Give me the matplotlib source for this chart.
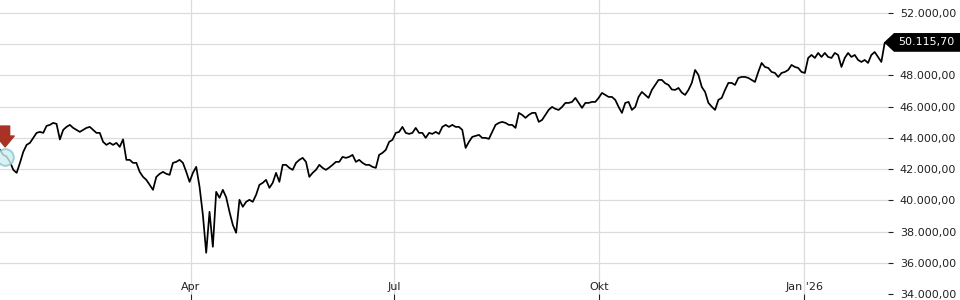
import numpy as np
import pandas as pd
import matplotlib
matplotlib.use("Agg")
import matplotlib.pyplot as plt
from matplotlib.ticker import FuncFormatter
from matplotlib.patches import Polygon
from matplotlib.transforms import blended_transform_factory

# kurs (mniej wiecej co 1.5 dnia)
kurs = [43232, 42912, 42800, 42464, 41952, 41760, 42400, 43104, 43552, 43680,
        44000, 44320, 44384, 44320, 44768, 44832, 44960, 44896, 43900, 44512,
        44704, 44832, 44640, 44512, 44384, 44512, 44640, 44704, 44512, 44320,
        44320, 43744, 43552, 43680, 43552, 43680, 43424, 43904, 42592, 42592,
        42400, 42400, 41824, 41504, 41312, 40992, 40672, 41500, 41696, 41824,
        41700, 41632, 42400, 42464, 42592, 42400, 41824, 41184, 41760, 42144,
        40864, 39072, 36640, 39264, 37024, 40544, 40160, 40672, 40200, 39264,
        38432, 37920, 40032, 39584, 39904, 40032, 39904, 40352, 40992, 41120,
        41312, 40800, 41120, 41760, 41184, 42272, 42272, 42080, 41952, 42400,
        42592, 42720, 42464, 41504, 41760, 41952, 42272, 42080, 41952, 42100,
        42272, 42464, 42464, 42784, 42720, 42784, 42912, 42464, 42592, 42400,
        42272, 42272, 42144, 42080, 42912, 43040, 43232, 43744, 43872, 44320,
        44384, 44704, 44320, 44256, 44320, 44640, 44320, 44320, 44000, 44320,
        44256, 44384, 44256, 44704, 44832, 44704, 44832, 44704, 44704, 44512,
        43360, 43744, 44064, 44128, 44192, 44000, 44000, 43936, 44384, 44832,
        44960, 45024, 44960, 44832, 44832, 44640, 45600, 45472, 45280, 45472,
        45600, 45600, 45024, 45152, 45472, 45800, 45984, 45856, 45792, 45984,
        46240, 46240, 46304, 46560, 46240, 45920, 46240, 46240, 46304, 46304,
        46560, 46880, 46752, 46624, 46624, 46432, 45984, 45600, 46240, 46304,
        45792, 45984, 46624, 46944, 46752, 46560, 47072, 47392, 47712, 47712,
        47500, 47392, 47100, 47072, 47200, 46900, 46752, 47072, 47520, 48350,
        48032, 47264, 46944, 46240, 46000, 45792, 46432, 46560, 47072, 47520,
        47520, 47392, 47840, 47904, 47904, 47840, 47712, 47584, 48224, 48800,
        48544, 48480, 48224, 48160, 47904, 48160, 48224, 48352, 48672, 48544,
        48480, 48224, 48160, 49120, 49312, 49120, 49440, 49184, 49440, 49184,
        49120, 49440, 49312, 48544, 49120, 49440, 49184, 49312, 48992, 48864,
        48992, 48800, 49312, 49500, 49184, 48864, 50080, 50115.70]

start = "2025-01-05 12:00"
stop = "2026-02-07 12:00"
daty = pd.date_range(start, stop, periods=len(kurs))

miesiace = ["2025-04-01", "2025-07-01", "2025-10-01", "2026-01-01"]
etykiety = ["Apr", "Jul", "Okt", "Jan '26"]
poziomy = list(range(34000, 52001, 2000))
ostatni = kurs[-1]

def de_format(v, pos=None):
    s = f"{v:,.2f}"
    return s.replace(",", "X").replace(".", ",").replace("X", ".")

def tick_format(v, pos=None):
    # etykieta pod znacznikiem ostatniej ceny jest zakryta
    if abs(v - ostatni) < 700:
        return ""
    return de_format(v)

fig = plt.figure(figsize=(9.6, 3.0), dpi=100)
ax = fig.add_axes([0, 6/300, 888/960, 294/300])

ax.plot(daty, kurs, color="black", linewidth=1.25, zorder=3)

ax.set_xlim(daty[0], daty[-1])
ax.set_ylim(34000, 52832)

for s in ax.spines.values():
    s.set_visible(False)

ax.yaxis.tick_right()
ax.set_yticks(poziomy)
ax.yaxis.set_major_formatter(FuncFormatter(tick_format))
ax.tick_params(axis="y", direction="out", length=3.5, width=0.8, pad=5,
               labelsize=8, colors="#222222")

ax.set_xticks(pd.to_datetime(miesiace))
ax.set_xticklabels([])
ax.tick_params(axis="x", direction="out", length=4.5, width=0.8, color="#222222")
for d, t in zip(pd.to_datetime(miesiace), etykiety):
    ax.annotate(t, xy=(d, 0), xycoords=("data", "axes fraction"),
                xytext=(0, 3), textcoords="offset points",
                ha="center", va="baseline", fontsize=8, color="#222222")

ax.grid(True, color="#dcdcdc", linewidth=0.9)
ax.set_axisbelow(True)

# znacznik kupna na poczatku
d0 = daty[0] + pd.Timedelta(days=2.3)
ax.plot([d0], [42784], marker="o", markersize=12, mfc="#cfeef0", mec="#86c9d2",
        mew=1.4, alpha=0.8, zorder=4, clip_on=False)
ax.annotate("", xy=(d0, 43424), xytext=(0, 15), textcoords="offset points",
            arrowprops=dict(arrowstyle="simple,head_length=0.6,head_width=1.0,tail_width=0.5",
                            color="#a93226", mutation_scale=13, shrinkA=0, shrinkB=0),
            zorder=5, annotation_clip=False)

# etykieta ostatniej ceny (czarny znacznik ze strzalka)
tr = blended_transform_factory(fig.transFigure, ax.transData)
h = 600
znacznik = Polygon([(884/960, ostatni), (894/960, ostatni + h), (1.0, ostatni + h),
                    (1.0, ostatni - h), (894/960, ostatni - h)],
                   closed=True, fc="black", ec="none", transform=tr,
                   clip_on=False, zorder=6)
ax.add_patch(znacznik)
ax.text(898/960, ostatni, de_format(ostatni), transform=tr, ha="left", va="center",
        fontsize=8, color="white", zorder=7, clip_on=False)

fig.savefig("out.png", dpi=100)
